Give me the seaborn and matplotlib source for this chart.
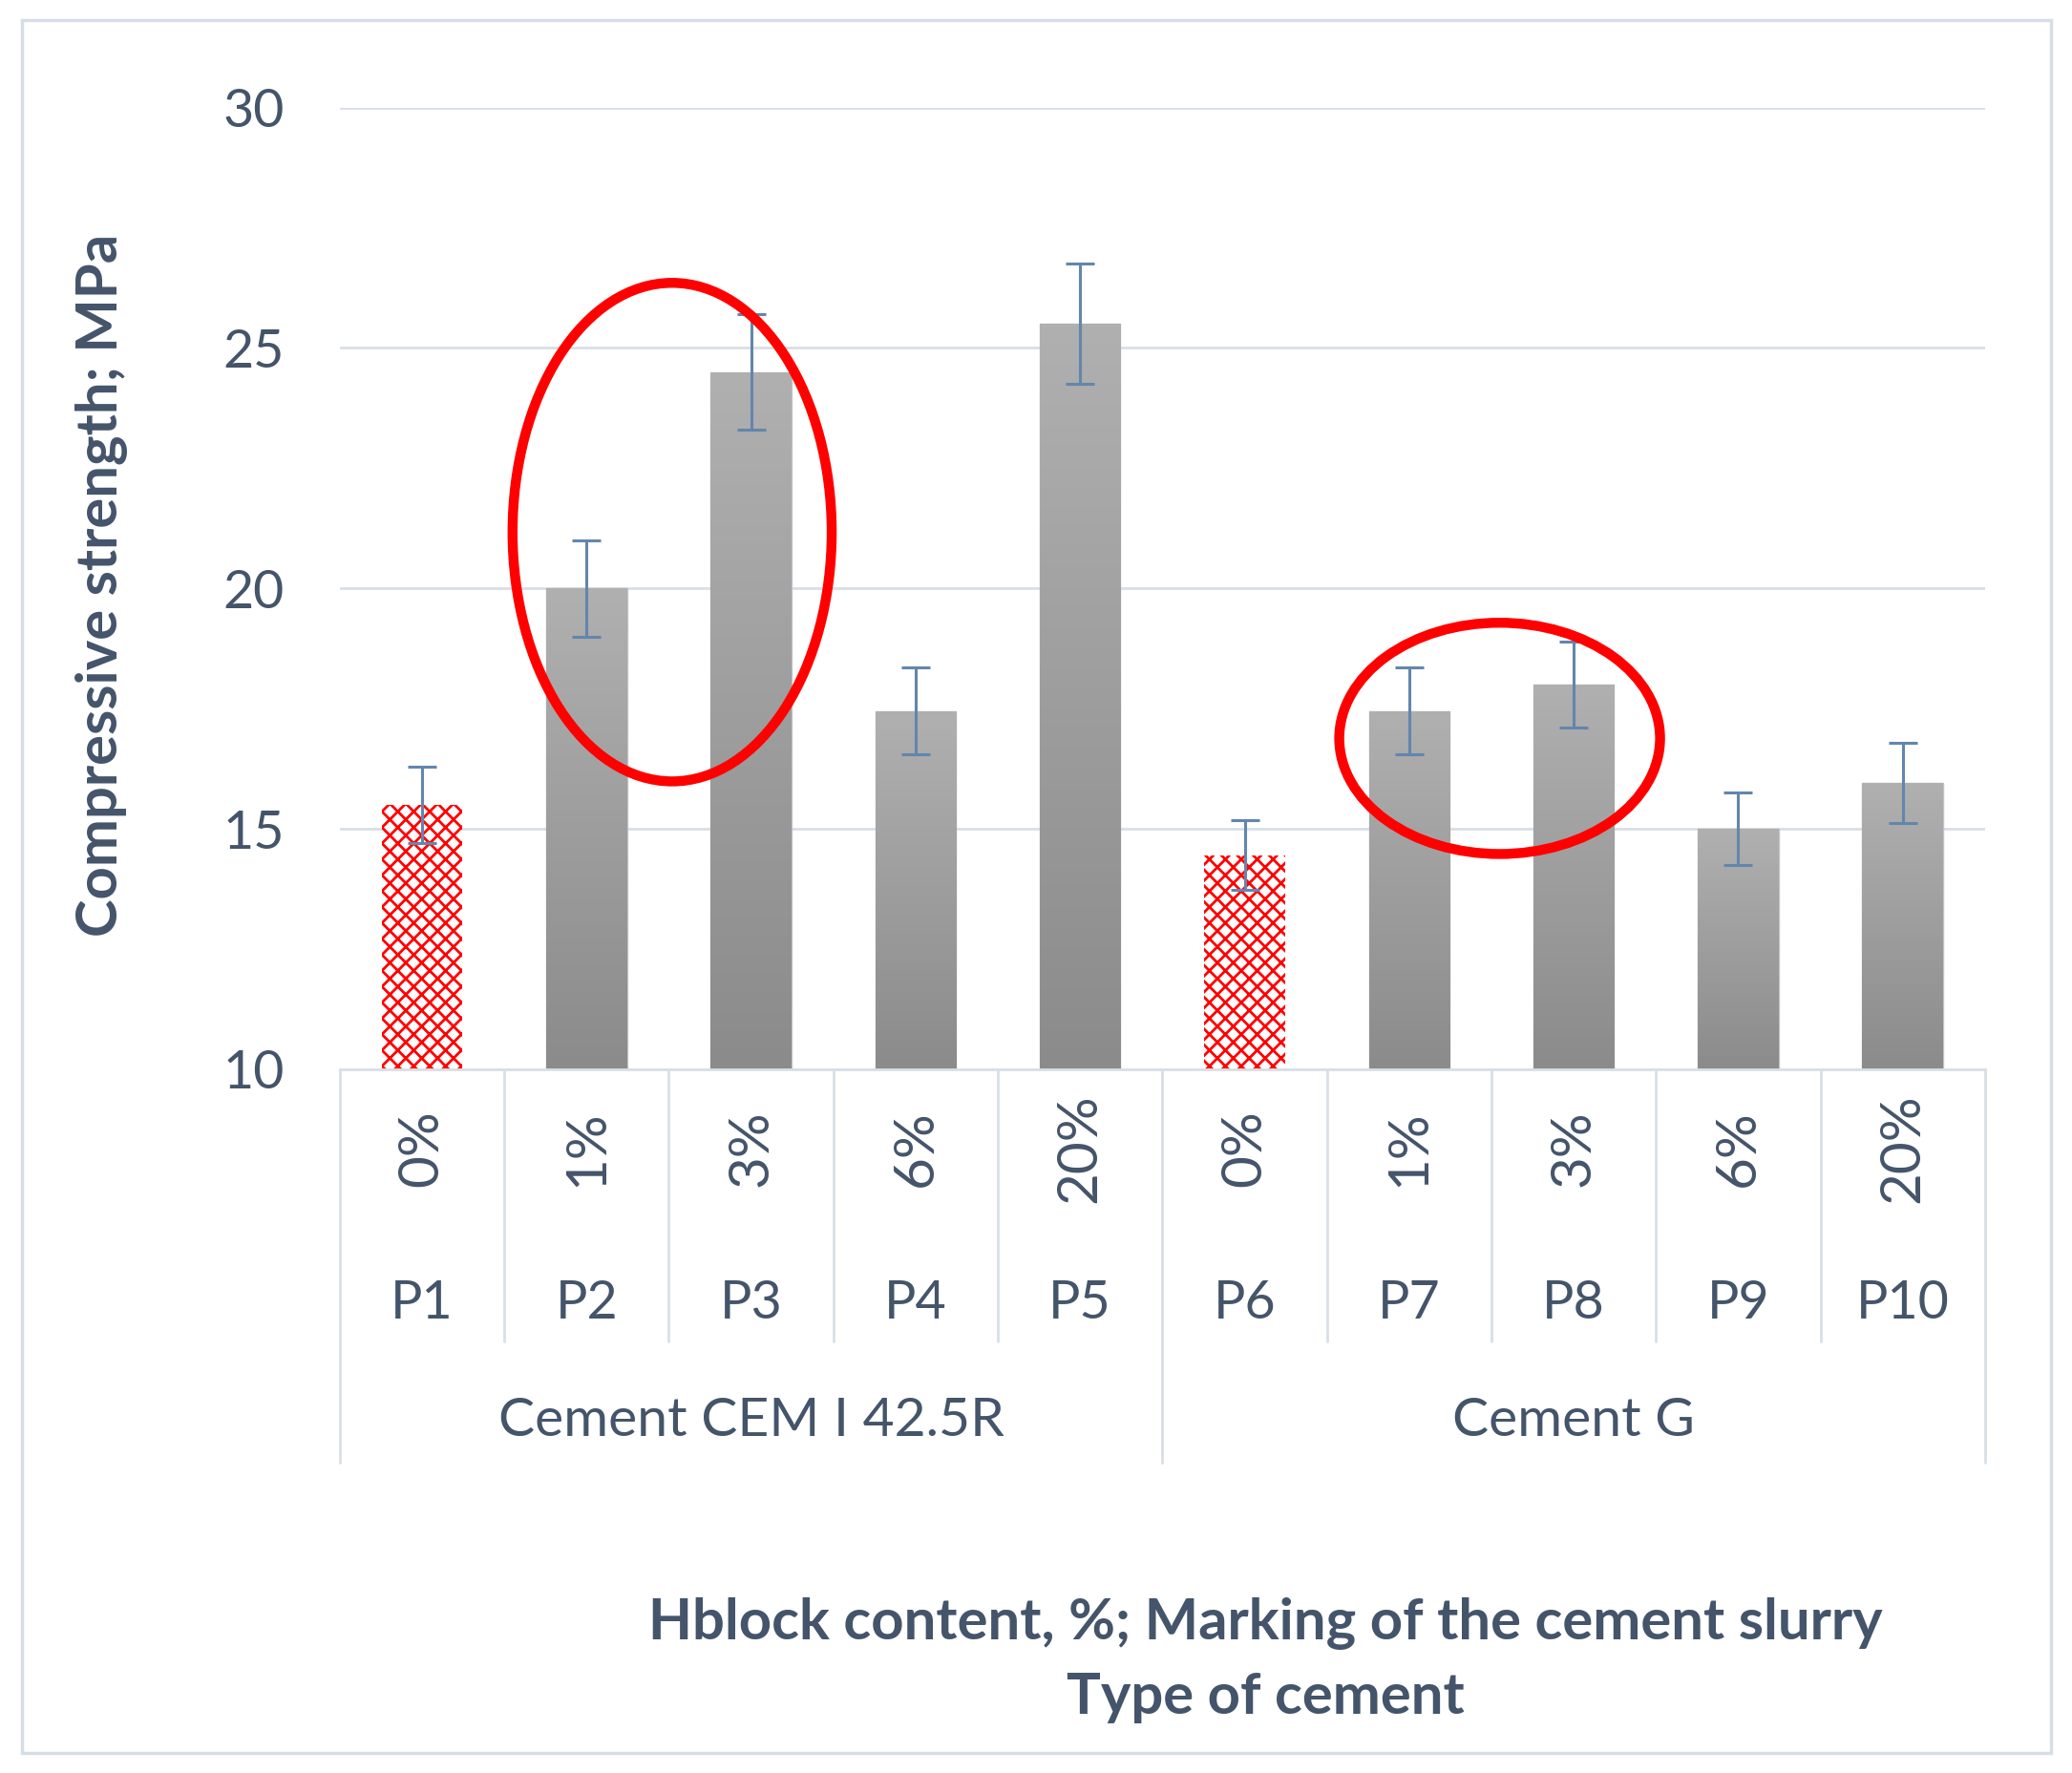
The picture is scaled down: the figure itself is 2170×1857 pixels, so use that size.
import matplotlib
matplotlib.use("Agg")
import matplotlib.pyplot as plt
import matplotlib.patches as mpatches
from matplotlib.colors import LinearSegmentedColormap
from matplotlib.transforms import blended_transform_factory
import numpy as np
import pandas as pd
import seaborn as sns

samples = ['P1', 'P2', 'P3', 'P4', 'P5', 'P6', 'P7', 'P8', 'P9', 'P10']
hblock = ['0%', '1%', '3%', '6%', '20%', '0%', '1%', '3%', '6%', '20%']
cement_groups = ['Cement CEM I 42.5R', 'Cement G']
strength = [15.5, 20.0, 24.5, 17.45, 25.5, 14.45, 17.45, 18.0, 15.0, 15.95]
err = [0.8, 1.0, 1.2, 0.9, 1.25, 0.72, 0.9, 0.9, 0.76, 0.83]

df = pd.DataFrame({'sample': samples, 'strength': strength, 'hblock': hblock})

sns.set_style('white')
plt.rcParams['font.family'] = ['Lato', 'DejaVu Sans']
plt.rcParams['hatch.linewidth'] = 2.0
txt = '#44546A'
grid_c = '#d9dfe7'

fig = plt.figure(figsize=(21.7, 18.57), dpi=100)
ax = fig.add_axes([0.164, 0.397, 0.794, 0.5423])
sns.barplot(data=df, x='sample', y='strength', color='#9c9c9c', width=0.49,
            ax=ax, zorder=2, errorbar=None)

# bars: hatched references, gradient grey for the rest
cmap = LinearSegmentedColormap.from_list('g', ['#8b8b8b', '#b0b0b0'])
grad = np.linspace(0, 1, 256).reshape(-1, 1)
for i, p in enumerate(ax.patches):
    if hblock[i] == '0%':
        p.set_facecolor('white')
        p.set_edgecolor('red')
        p.set_linewidth(0)
        p.set_hatch('xx')
    else:
        x0, w, h = p.get_x(), p.get_width(), p.get_height()
        im = ax.imshow(grad, extent=[x0, x0 + w, 10, h], origin='lower',
                       cmap=cmap, aspect='auto', zorder=2.1)
        im.set_clip_path(p)
        p.set_facecolor('none')
        p.set_edgecolor('#c4c4c4')
        p.set_linewidth(1)

ax.errorbar(np.arange(len(samples)), strength, yerr=err, fmt='none',
            ecolor='#6386ac', elinewidth=2.2, capsize=11, capthick=2.2, zorder=4)

ax.set_xlim(-0.5, 9.5)
ax.set_ylim(10, 30)
ax.set_yticks([10, 15, 20, 25, 30])
ax.yaxis.grid(True, color=grid_c, lw=2)
ax.set_axisbelow(True)
for s in ['top', 'right', 'left']:
    ax.spines[s].set_visible(False)
ax.spines['bottom'].set_color(grid_c)
ax.spines['bottom'].set_linewidth(2)
ax.tick_params(axis='y', length=0, pad=42, labelsize=40, labelcolor=txt)
ax.set_xticks([])
ax.set_xlabel('')
ax.set_ylabel('')

# multi-level category axis
trans = blended_transform_factory(ax.transData, ax.transAxes)
for i in range(len(samples)):
    ax.text(i, -0.082, hblock[i], rotation=90, ha='center', va='center',
            transform=trans, fontsize=42, color=txt)
    ax.text(i, -0.244, samples[i], ha='center', va='center',
            transform=trans, fontsize=40, color=txt)
for g, name in enumerate(cement_groups):
    ax.text(2 + 5 * g, -0.366, name, ha='center', va='center',
            transform=trans, fontsize=41, color=txt)
for b in np.arange(-0.5, 10, 1.0):
    bottom = -0.409 if b in (-0.5, 4.5, 9.5) else -0.283
    ax.plot([b, b], [0, bottom], transform=trans, clip_on=False,
            color=grid_c, lw=2)

# highlight ellipses
ax.add_patch(mpatches.Ellipse((1.52, 21.17), 1.94, 10.37, fill=False,
                              edgecolor='red', lw=7.5, zorder=5, clip_on=False))
ax.add_patch(mpatches.Ellipse((6.55, 16.88), 1.95, 4.81, fill=False,
                              edgecolor='red', lw=7.5, zorder=5, clip_on=False))

fig.text(0.049, 0.670, 'Compressive strength; MPa', rotation=90, ha='center',
         va='center', fontsize=43, fontweight='bold', color=txt)
fig.text(0.6106, 0.0845, 'Hblock content, %; Marking of the cement slurry',
         ha='center', va='center', fontsize=43, fontweight='bold', color=txt)
fig.text(0.6106, 0.0425, 'Type of cement', ha='center', va='center',
         fontsize=43, fontweight='bold', color=txt)

fig.add_artist(mpatches.Rectangle((23 / 2170, 1 - 1836 / 1857), 2125 / 2170, 1815 / 1857,
                                  transform=fig.transFigure, fill=False,
                                  edgecolor='#d6dde6', lw=2.5))

fig.savefig('out.png', dpi=100)
